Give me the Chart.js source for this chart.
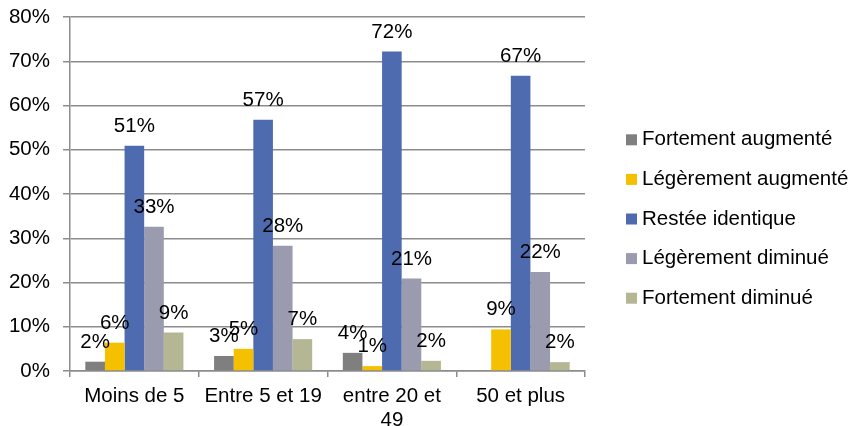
<!DOCTYPE html>
<html>
<head>
<meta charset="utf-8">
<script src="https://cdn.jsdelivr.net/npm/chart.js@4"></script>
<style>
  html, body { margin: 0; padding: 0; background: #fff; }
  canvas { display: block; }
</style>
</head>
<body>
<canvas id="chart" width="857" height="426"></canvas>
<script>
const categories = ['Moins de 5', 'Entre 5 et 19', ['entre 20 et', '49'], '50 et plus'];
const seriesNames = ['Fortement augmenté', 'Légèrement augmenté', 'Restée identique', 'Légèrement diminué', 'Fortement diminué'];
const fortementAugmente = [2.1, 3.4, 4.1, null];
const legerementAugmente = [6.4, 5.0, 1.1, 9.4];
const resteeIdentique = [50.9, 56.8, 72.2, 66.7];
const legerementDiminue = [32.6, 28.3, 20.9, 22.4];
const fortementDiminue = [8.7, 7.2, 2.3, 2.0];
const yTicks = [0, 10, 20, 30, 40, 50, 60, 70, 80];

const colors = ['#7f7f7f', '#f5c000', '#4f6baf', '#9a9baf', '#b5b693'];
const FONT = 'Liberation Sans, Arial, sans-serif';
const gridColor = '#8c8c8c';

const allSeries = [fortementAugmente, legerementAugmente, resteeIdentique, legerementDiminue, fortementDiminue];

// etiquettes de valeur au-dessus des barres
const valueLabels = {
  id: 'valueLabels',
  afterDatasetsDraw(chart) {
    const ctx = chart.ctx;
    ctx.save();
    ctx.font = '20.5px ' + FONT;
    ctx.fillStyle = '#000';
    ctx.textAlign = 'center';
    ctx.textBaseline = 'alphabetic';
    chart.data.datasets.forEach((ds, i) => {
      chart.getDatasetMeta(i).data.forEach((bar, j) => {
        const v = ds.data[j];
        if (v === null || v === undefined) return;
        ctx.fillText(Math.round(v) + '%', bar.x, bar.y - 14);
      });
    });
    ctx.restore();
  }
};

// légende dessinée à droite
const sideLegend = {
  id: 'sideLegend',
  afterDraw(chart) {
    const ctx = chart.ctx;
    const area = chart.chartArea;
    const step = 39.6;
    const n = chart.data.datasets.length;
    const y0 = chart.height / 2 + 6 - step * (n - 1) / 2;
    const x0 = area.right + 41;
    ctx.save();
    ctx.font = '20.5px ' + FONT;
    ctx.textBaseline = 'middle';
    ctx.textAlign = 'left';
    chart.data.datasets.forEach((ds, i) => {
      const y = y0 + i * step;
      ctx.fillStyle = ds.backgroundColor;
      ctx.fillRect(x0, y - 5.5, 11, 11);
      ctx.fillStyle = '#000';
      ctx.fillText(ds.label, x0 + 16, y);
    });
    ctx.restore();
  }
};

new Chart(document.getElementById('chart'), {
  type: 'bar',
  data: {
    labels: categories,
    datasets: allSeries.map((d, i) => ({
      label: seriesNames[i],
      data: d,
      backgroundColor: colors[i],
      categoryPercentage: 0.762,
      barPercentage: 1.0
    }))
  },
  options: {
    responsive: false,
    animation: false,
    layout: { padding: { top: 17, right: 272, left: 0, bottom: 0 } },
    plugins: {
      legend: { display: false },
      tooltip: { enabled: false }
    },
    scales: {
      x: {
        grid: {
          drawOnChartArea: false,
          drawTicks: true,
          tickLength: 6,
          color: gridColor,
          lineWidth: 1.5
        },
        border: { color: gridColor, width: 1.5 },
        ticks: {
          color: '#000',
          font: { family: FONT, size: 20.5, lineHeight: 1.15 },
          padding: 8,
          maxRotation: 0,
          autoSkip: false
        },
        afterFit(scale) {
          scale.height = 55;
          scale.paddingLeft = 0;
          scale.paddingRight = 0;
        }
      },
      y: {
        min: 0,
        max: 80,
        afterBuildTicks(scale) { scale.ticks = yTicks.map(v => ({ value: v })); },
        grid: {
          color: gridColor,
          lineWidth: 1.5,
          drawTicks: true,
          tickLength: 7
        },
        border: { color: gridColor, width: 1.5 },
        ticks: {
          color: '#000',
          font: { family: FONT, size: 20.5 },
          padding: 13,
          callback: v => v + '%'
        },
        afterFit(scale) {
          scale.width = 70;
          scale.paddingTop = 0;
          scale.paddingBottom = 0;
        }
      }
    }
  },
  plugins: [valueLabels, sideLegend]
});
</script>
</body>
</html>
